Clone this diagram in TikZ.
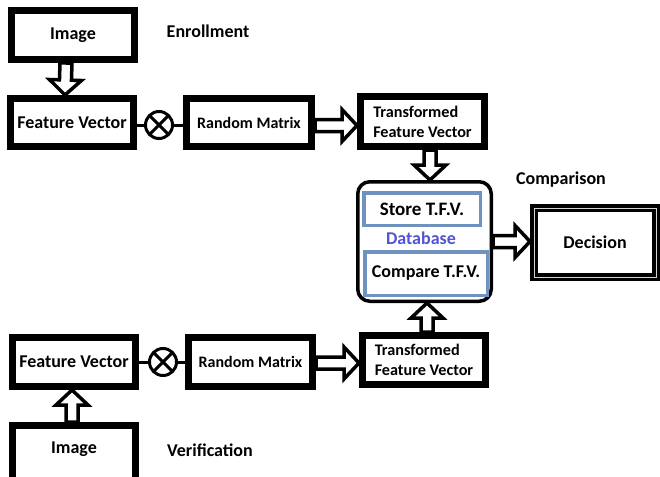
\documentclass[tikz,border=0pt]{standalone}
\usepackage{fontspec}
\setmainfont{Carlito}
\usetikzlibrary{calc}
\definecolor{frameblue}{RGB}{112,146,190}
\definecolor{dbblue}{RGB}{82,82,212}

\tikzset{
  mainfont/.style={font=\fontsize{18}{21}\selectfont\bfseries},
  smallfont/.style={font=\fontsize{16}{19}\selectfont\bfseries},
  thickbox/.style={draw=black, line width=7pt, fill=white, inner sep=0pt, mainfont},
  tfvbox/.style={thickbox, align=left, font=\fontsize{16.2}{20}\selectfont\bfseries},
  dbbox/.style={draw=black, line width=3.5pt, rounded corners=12pt, fill=white, inner sep=0pt},
  bluebox/.style={draw=frameblue, line width=3.5pt, fill=white, inner sep=0pt, mainfont},
  decbox/.style={draw=black, line width=3.5pt, double=gray!35, double distance=1pt,
                 outer sep=4pt, fill=white, inner sep=0pt, mainfont},
  captext/.style={inner sep=0pt, mainfont},
  dbtext/.style={inner sep=0pt, text=dbblue, mainfont},
  mult/.style={circle, draw=black, line width=3pt, minimum size=27pt, inner sep=0pt, outer sep=0pt},
  wire/.style={draw=black, line width=3pt},
  barrow/.style={draw=black, line width=3.5pt, fill=white, line join=miter}
}

% hollow block arrow from #1 to #2 (both given as coordinates in parentheses)
\newcommand\blockarrow[2]{%
  \path #1 coordinate (ba-s) #2 coordinate (ba-e);
  \path ($(ba-e)!15pt!(ba-s)$) coordinate (ba-h);
  \draw[barrow] ($(ba-s)!6pt!90:(ba-e)$) -- ($(ba-h)!6pt!90:(ba-e)$)
     -- ($(ba-h)!16pt!90:(ba-e)$) -- (ba-e) -- ($(ba-h)!16pt!-90:(ba-e)$)
     -- ($(ba-h)!6pt!-90:(ba-e)$) -- ($(ba-s)!6pt!-90:(ba-e)$) -- cycle;
}

\begin{document}
\begin{tikzpicture}[x=1pt,y=-1pt]
\useasboundingbox (0,0) rectangle (660,476);
\clip (0,0) rectangle (660,476);

% enrollment row
\node[thickbox, minimum width=123pt, minimum height=49pt] (img1) at (73,35) {Image};
\node[thickbox, minimum width=123pt, minimum height=48pt] (fv1) at (72,122.5) {Feature Vector};
\node[mult] (ot1) at (159,125) {};
\node[thickbox, smallfont, minimum width=125pt, minimum height=48pt] (rm1) at (249,122.5) {Random Matrix};
\node[tfvbox, minimum width=124pt, minimum height=50pt] (tfv1) at (422.5,121.5) {Transformed\\Feature Vector};
\node[captext] (enr) at (208,31) {Enrollment};

% database and decision
\node[dbbox, minimum width=133.5pt, minimum height=119.5pt] (db) at (424.5,241.5) {};
\node[bluebox, font=\fontsize{19}{22}\selectfont\bfseries, minimum width=116.5pt, minimum height=32.5pt] (store) at (422,209) {Store T.F.V.};
\node[dbtext] (dbl) at (421,238) {Database};
\node[bluebox, minimum width=122.5pt, minimum height=43.5pt] (cmp) at (426,273.5) {Compare T.F.V.};
\node[captext] (cmpl) at (561,180) {Comparison};
\node[decbox, minimum width=122pt, minimum height=69pt] (dec) at (595,242.5) {Decision};

% verification row
\node[thickbox, minimum width=123pt, minimum height=49pt] (fv2) at (74,362) {Feature Vector};
\node[mult] (ot2) at (163,362) {};
\node[thickbox, smallfont, minimum width=124pt, minimum height=49pt] (rm2) at (250.5,362) {Random Matrix};
\node[tfvbox, minimum width=123pt, minimum height=49pt] (tfv2) at (424,360) {Transformed\\Feature Vector};
\node[thickbox, minimum width=123pt, minimum height=57pt, text height=12pt, text depth=14pt] (img2) at (74,454) {Image};
\node[captext] (ver) at (210,450) {Verification};

% multiplication symbols and their wires
\foreach \o/\f/\r in {ot1/fv1/rm1, ot2/fv2/rm2}{
  \draw[wire] (\f.east |- \o.center) -- (\o.west);
  \draw[wire] (\o.east) -- (\o.east -| \r.west);
  \draw[wire] (\o.north west) -- (\o.south east) (\o.north east) -- (\o.south west);
}

% block arrows
\blockarrow{($(img1.south)+(-7,0)$)}{($(fv1.north)+(-7,0)$)}
\blockarrow{($(rm1.east)+(0,3)$)}{($(tfv1.west)+(0,4)$)}
\blockarrow{($(tfv1.south)+(7.5,0)$)}{($(db.north)+(5.5,0)$)}
\blockarrow{(db.east)}{(dec.west |- db.east)}
\blockarrow{($(tfv2.north)+(3,0)$)}{($(db.south)+(2.5,0)$)}
\blockarrow{($(rm2.east)+(0,1)$)}{($(tfv2.west)+(0,3)$)}
\blockarrow{($(img2.north)+(-2,0)$)}{($(fv2.south)+(-2,0)$)}
\end{tikzpicture}
\end{document}
